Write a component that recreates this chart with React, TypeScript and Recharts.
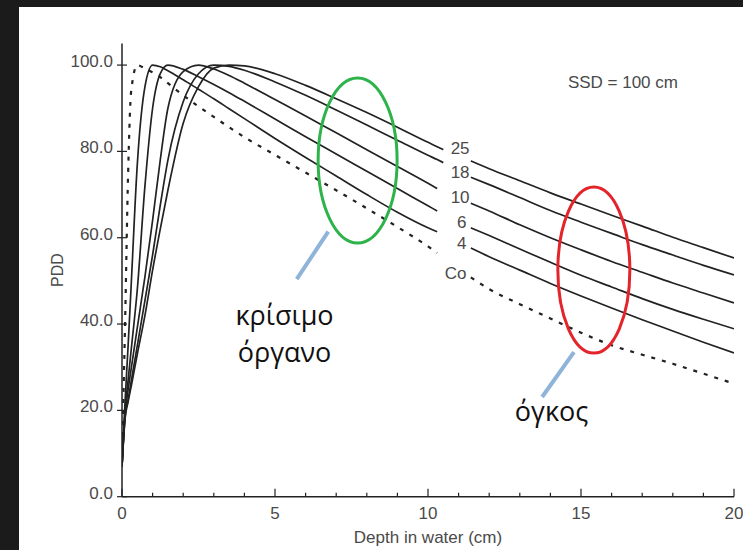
import React from 'react';
import {
  LineChart, Line, XAxis, YAxis, ReferenceDot, ReferenceLine, Label,
} from 'recharts';

// depth in water (cm); null marks the gap where the curve labels sit
const depths = [0, 0.1, 0.2, 0.3, 0.5, 0.75, 1, 1.25, 1.5, 2, 2.5, 3, 3.5, 4, 5, 6, 7, 8, 9, 10, 10.3, 10.5, 10.9, 11.4, 12, 13, 14, 15, 16, 17, 18, 19, 20];

const pddCo = [9, 40, 75, 94, 100, 99.2, 98.3, 97.2, 95.8, 93, 90.4, 88, 85.6, 83.3, 79.2, 75.1, 71, 66.8, 62.5, 58, 56.5, null, null, 50.8, 48.1, 44.6, 41.3, 38, 35.1, 32.9, 30.8, 28.5, 26.2];
const pdd4 = [7, 22, 35, 49, 77, 95, 100, 99.6, 98.7, 96.6, 94.4, 92.2, 89.9, 87.6, 83, 78.6, 74.3, 70, 65.9, 62.3, 61.4, null, null, 57.6, 55.6, 52.5, 49.4, 46.5, 43.7, 41, 38.4, 35.8, 33.3];
const pdd6 = [7, 20, 27, 34, 48, 72, 90, 98, 100, 99, 97.3, 95.5, 93.6, 91.6, 87.5, 83.4, 79.4, 75.4, 71.4, 67.4, 66.2, null, null, 62.3, 60.5, 57.4, 54.3, 51.3, 48.6, 45.9, 43.4, 41.1, 38.9];
const pdd10 = [7, 19, 24.8, 29.6, 39.2, 51, 64, 78, 90, 98.5, 100, 99.1, 97.6, 95.8, 92, 88.2, 84.3, 80.4, 76.5, 72.6, 71.4, null, null, 68, 66.2, 63, 60, 57.2, 54.5, 52, 49.5, 47.2, 44.9];
const pdd18 = [7, 18.5, 22.5, 26.7, 35, 45.5, 56, 67.5, 78, 91.5, 98, 100, 99.7, 98.8, 96.1, 93, 89.6, 86.1, 82.6, 79.1, 78.1, 77.4, null, 74, 72.3, 69.3, 66.3, 63.6, 61, 58.4, 56, 53.6, 51.4];
const pdd25 = [7, 18, 22, 25.5, 33, 42, 52.5, 62, 71, 86.5, 95, 99.3, 100, 99.8, 98, 95.3, 92.2, 89, 85.6, 82.1, 81.1, 80.4, null, 77.8, 76, 73.2, 70.4, 67.8, 65.2, 62.7, 60.1, 57.7, 55.3];

const xTicks = [0, 1, 2, 3, 4, 5, 6, 7, 8, 9, 10, 11, 12, 13, 14, 15, 16, 17, 18, 19, 20];
const yTicks = [0, 20, 40, 60, 80, 100];

// curve labels: [text, depth, pdd]
const curveLabels: [string, number, number][] = [
  ['25', 11.05, 80.8],
  ['18', 11.05, 75.2],
  ['10', 11.05, 69.4],
  ['6', 11.1, 63.6],
  ['4', 11.1, 58.7],
  ['Co', 10.9, 51.8],
];

const data = depths.map((d, i) => ({
  depth: d,
  co: pddCo[i],
  mv4: pdd4[i],
  mv6: pdd6[i],
  mv10: pdd10[i],
  mv18: pdd18[i],
  mv25: pdd25[i],
}));

const FONT = '"Liberation Sans", Arial, Helvetica, sans-serif';
const GREEK = '"Open Sans", "Noto Sans", sans-serif';
const INK = '#222';
const LABEL = '#4a4a4a';
const FRAME = '#1b1b1b';

const BottomTick = (p: any) => {
  const v = p.payload.value;
  const major = v % 5 === 0;
  return (
    <g>
      <line x1={p.x} y1={p.y} x2={p.x} y2={p.y - (major ? 8 : 4)} stroke={INK} strokeWidth={1.2} />
      {major && (
        <text x={p.x} y={p.y + 22} textAnchor="middle" fontSize={17} fill={LABEL} fontFamily={FONT}>{v}</text>
      )}
    </g>
  );
};

const TopTick = (p: any) => (
  <line x1={p.x} y1={p.y} x2={p.x} y2={p.y + 4} stroke={INK} strokeWidth={1.2} />
);

const LeftTick = (p: any) => (
  <g>
    <line x1={p.x - 5} y1={p.y} x2={p.x + 5} y2={p.y} stroke={INK} strokeWidth={1.2} />
    <text x={p.x - 9} y={p.y - 4} dy="0.35em" textAnchor="end" fontSize={17} fill={LABEL} fontFamily={FONT}>
      {p.payload.value.toFixed(1)}
    </text>
  </g>
);

const RightTick = (p: any) => (
  <line x1={p.x} y1={p.y} x2={p.x - 6} y2={p.y} stroke={INK} strokeWidth={1.2} />
);

const textShape = (txt: string, size: number, family: string, fill: string) => (p: any) => (
  <text x={p.cx} y={p.cy} dy="0.35em" textAnchor="middle" fontSize={size} fontFamily={family} fill={fill}>{txt}</text>
);

const ellipseShape = (rx: number, ry: number, stroke: string) => (p: any) => (
  <ellipse cx={p.cx} cy={p.cy} rx={rx} ry={ry} fill="none" stroke={stroke} strokeWidth={3} />
);

export default function App() {
  return (
    <div style={{ position: 'fixed', left: 0, top: 0, width: 743, height: 550, background: '#fff', overflow: 'hidden' }}>
      <div style={{ position: 'absolute', left: 0, top: 0 }}>
        <LineChart width={743} height={550} data={data} margin={{ top: 43.5, right: 9, bottom: 3.3, left: 22 }}>
          <XAxis
            dataKey="depth" type="number" domain={[0, 20]} ticks={xTicks} allowDataOverflow
            height={50} tickSize={0} tickMargin={0} tickLine={false} interval={0}
            axisLine={{ stroke: INK, strokeWidth: 1.5 }} tick={BottomTick}
          >
            <Label
              content={(p: any) => (
                <text x={p.viewBox.x + p.viewBox.width / 2} y={p.viewBox.y + 46} textAnchor="middle" fontSize={17} fill={LABEL} fontFamily={FONT}>
                  Depth in water (cm)
                </text>
              )}
            />
          </XAxis>
          <XAxis
            xAxisId="top" orientation="top" dataKey="depth" type="number" domain={[0, 20]} ticks={xTicks}
            allowDataOverflow height={0} tickSize={0} tickMargin={0} tickLine={false} interval={0}
            axisLine={{ stroke: INK, strokeWidth: 1.5 }} tick={TopTick}
          />
          <YAxis
            type="number" domain={[0, 105]} ticks={yTicks} allowDataOverflow width={100}
            tickSize={0} tickMargin={0} tickLine={false} interval={0}
            axisLine={{ stroke: INK, strokeWidth: 1.5 }} tick={LeftTick}
          >
            <Label
              content={(p: any) => {
                const cx = p.viewBox.x + 35;
                const cy = p.viewBox.y + p.viewBox.height / 2;
                return (
                  <text x={cx} y={cy} dy="0.35em" textAnchor="middle" fontSize={16} fill={LABEL} fontFamily={FONT} transform={`rotate(-90 ${cx} ${cy})`}>
                    PDD
                  </text>
                );
              }}
            />
          </YAxis>
          <YAxis
            yAxisId="right" orientation="right" type="number" domain={[0, 105]} ticks={yTicks} allowDataOverflow
            width={0} tickSize={0} tickMargin={0} tickLine={false} interval={0}
            axisLine={{ stroke: INK, strokeWidth: 1.5 }} tick={RightTick}
          />

          <Line dataKey="co" type="monotone" stroke={INK} strokeWidth={2.2} strokeDasharray="4 7" dot={false} isAnimationActive={false} />
          <Line dataKey="mv4" type="monotone" stroke={INK} strokeWidth={1.7} dot={false} isAnimationActive={false} />
          <Line dataKey="mv6" type="monotone" stroke={INK} strokeWidth={1.7} dot={false} isAnimationActive={false} />
          <Line dataKey="mv10" type="monotone" stroke={INK} strokeWidth={1.7} dot={false} isAnimationActive={false} />
          <Line dataKey="mv18" type="monotone" stroke={INK} strokeWidth={1.7} dot={false} isAnimationActive={false} />
          <Line dataKey="mv25" type="monotone" stroke={INK} strokeWidth={1.7} dot={false} isAnimationActive={false} />

          {curveLabels.map(([t, x, y]) => (
            <ReferenceDot key={t} x={x} y={y} r={0} ifOverflow="visible" shape={textShape(t, 17, FONT, LABEL)} />
          ))}
          <ReferenceDot x={16.37} y={96} r={0} ifOverflow="visible" shape={textShape('SSD = 100 cm', 17, FONT, LABEL)} />

          {/* annotations */}
          <ReferenceDot x={7.7} y={77.9} r={0} ifOverflow="visible" shape={ellipseShape(39.5, 82.5, '#2db34a')} />
          <ReferenceDot x={15.42} y={52.5} r={0} ifOverflow="visible" shape={ellipseShape(36, 83, '#e3242b')} />
          <ReferenceLine segment={[{ x: 6.74, y: 61.4 }, { x: 5.71, y: 50.4 }]} stroke="#8fb3d9" strokeWidth={4} ifOverflow="visible" />
          <ReferenceLine segment={[{ x: 14.77, y: 33.5 }, { x: 13.73, y: 23.1 }]} stroke="#8fb3d9" strokeWidth={4} ifOverflow="visible" />
          <ReferenceDot x={5.31} y={42} r={0} ifOverflow="visible" shape={textShape('κρίσιμο', 27, GREEK, '#111')} />
          <ReferenceDot x={5.31} y={33.5} r={0} ifOverflow="visible" shape={textShape('όργανο', 27, GREEK, '#111')} />
          <ReferenceDot x={14.04} y={19.7} r={0} ifOverflow="visible" shape={textShape('όγκος', 27, GREEK, '#111')} />
        </LineChart>
      </div>
      {/* dark slide border, top and left */}
      <div style={{ position: 'absolute', left: 0, top: 0, width: 743, height: 7, background: FRAME, zIndex: 5 }} />
      <div style={{ position: 'absolute', left: 0, top: 0, width: 19, height: 550, background: FRAME, zIndex: 5 }} />
    </div>
  );
}
